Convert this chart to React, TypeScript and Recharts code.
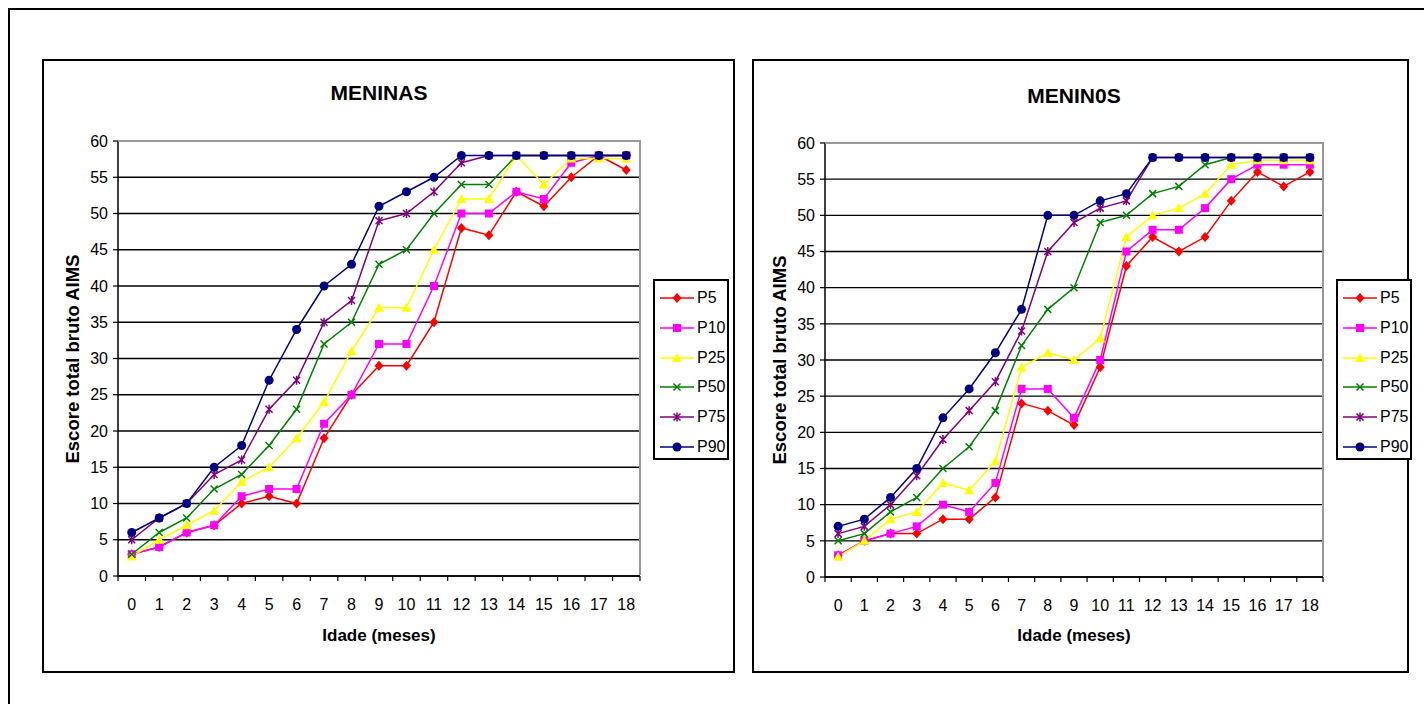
import { LineChart, Line, XAxis, YAxis, CartesianGrid } from 'recharts';

const AGES = [0, 1, 2, 3, 4, 5, 6, 7, 8, 9, 10, 11, 12, 13, 14, 15, 16, 17, 18];
const Y_TICKS = [0, 5, 10, 15, 20, 25, 30, 35, 40, 45, 50, 55, 60];

// MENINAS
const GIRLS_P5 = [3, 4, 6, 7, 10, 11, 10, 19, 25, 29, 29, 35, 48, 47, 53, 51, 55, 58, 56];
const GIRLS_P10 = [3, 4, 6, 7, 11, 12, 12, 21, 25, 32, 32, 40, 50, 50, 53, 52, 57, 58, 58];
const GIRLS_P25 = [2.7, 5, 7, 9, 13, 15, 19, 24, 31, 37, 37, 45, 52, 52, 58, 54, 57.6, 57.6, 57.6];
const GIRLS_P50 = [3, 6, 8, 12, 14, 18, 23, 32, 35, 43, 45, 50, 54, 54, 58, 58, 58, 58, 58];
const GIRLS_P75 = [5, 8, 10, 14, 16, 23, 27, 35, 38, 49, 50, 53, 57, 58, 58, 58, 58, 58, 58];
const GIRLS_P90 = [6, 8, 10, 15, 18, 27, 34, 40, 43, 51, 53, 55, 58, 58, 58, 58, 58, 58, 58];

// MENIN0S
const BOYS_P5 = [3, 5, 6, 6, 8, 8, 11, 24, 23, 21, 29, 43, 47, 45, 47, 52, 56, 54, 56];
const BOYS_P10 = [3, 5, 6, 7, 10, 9, 13, 26, 26, 22, 30, 45, 48, 48, 51, 55, 57, 57, 57];
const BOYS_P25 = [2.8, 5, 8, 9, 13, 12, 16, 29, 31, 30, 33, 47, 50, 51, 53, 57, 57.6, 57.6, 57.6];
const BOYS_P50 = [5, 6, 9, 11, 15, 18, 23, 32, 37, 40, 49, 50, 53, 54, 57, 58, 58, 58, 58];
const BOYS_P75 = [6, 7, 10, 14, 19, 23, 27, 34, 45, 49, 51, 52, 58, 58, 58, 58, 58, 58, 58];
const BOYS_P90 = [7, 8, 11, 15, 22, 26, 31, 37, 50, 50, 52, 53, 58, 58, 58, 58, 58, 58, 58];

const SERIES = [
  { key: 'P5', color: '#FF0000', shape: 'diamond' },
  { key: 'P10', color: '#FF00FF', shape: 'square' },
  { key: 'P25', color: '#FFFF00', shape: 'triangle' },
  { key: 'P50', color: '#008000', shape: 'x' },
  { key: 'P75', color: '#800080', shape: 'star' },
  { key: 'P90', color: '#000080', shape: 'circle' },
];

const FONT = '"Liberation Sans", Arial, sans-serif';

function buildRows(cols: number[][]) {
  return AGES.map((age, i) => {
    const row: Record<string, number> = { age };
    SERIES.forEach((s, j) => {
      row[s.key] = cols[j][i];
    });
    return row;
  });
}

const girlsData = buildRows([GIRLS_P5, GIRLS_P10, GIRLS_P25, GIRLS_P50, GIRLS_P75, GIRLS_P90]);
const boysData = buildRows([BOYS_P5, BOYS_P10, BOYS_P25, BOYS_P50, BOYS_P75, BOYS_P90]);

function Marker({ cx, cy, shape, color }: { cx?: number; cy?: number; shape: string; color: string }) {
  if (cx == null || cy == null) return null;
  switch (shape) {
    case 'diamond':
      return <polygon points={`${cx},${cy - 5} ${cx + 4.5},${cy} ${cx},${cy + 5} ${cx - 4.5},${cy}`} fill={color} />;
    case 'square':
      return <rect x={cx - 4} y={cy - 4} width={8} height={8} fill={color} />;
    case 'triangle':
      return <polygon points={`${cx},${cy - 5} ${cx + 5},${cy + 4} ${cx - 5},${cy + 4}`} fill={color} />;
    case 'x':
      return (
        <path
          d={`M${cx - 3.5},${cy - 3.5}L${cx + 3.5},${cy + 3.5}M${cx - 3.5},${cy + 3.5}L${cx + 3.5},${cy - 3.5}`}
          stroke={color}
          strokeWidth={1.5}
        />
      );
    case 'star':
      return (
        <path
          d={`M${cx - 3.5},${cy - 3.5}L${cx + 3.5},${cy + 3.5}M${cx - 3.5},${cy + 3.5}L${cx + 3.5},${cy - 3.5}M${cx},${cy - 4.5}L${cx},${cy + 4.5}`}
          stroke={color}
          strokeWidth={1.5}
        />
      );
    default:
      return <circle cx={cx} cy={cy} r={4.5} fill={color} />;
  }
}

// category label in the middle, tick marks on the category boundaries (Excel style)
function AgeTick({ x, y, payload, index, half }: any) {
  const last = index === AGES.length - 1;
  return (
    <g>
      <line x1={x - half} y1={y} x2={x - half} y2={y + 5} stroke="#000" strokeWidth={1.2} />
      {last && <line x1={x + half} y1={y} x2={x + half} y2={y + 5} stroke="#000" strokeWidth={1.2} />}
      <text x={x} y={y + 23} dy="0.71em" textAnchor="middle" fontSize={16} fill="#000">
        {payload.value}
      </text>
    </g>
  );
}

function Legend({ left, top }: { left: number; top: number }) {
  return (
    <div
      style={{
        position: 'absolute',
        left,
        top,
        width: 76,
        height: 181,
        boxSizing: 'border-box',
        border: '2px solid #000',
        background: '#fff',
      }}
    >
      {SERIES.map((s, i) => (
        <div key={s.key} style={{ position: 'absolute', left: 5, top: 5 + i * 29.8, height: 24, display: 'flex', alignItems: 'center' }}>
          <svg width={36} height={14}>
            <line x1={0} y1={7} x2={34} y2={7} stroke={s.color} strokeWidth={1.5} />
            <Marker cx={17} cy={7} shape={s.shape} color={s.color} />
          </svg>
          <span style={{ fontSize: 16, fontFamily: FONT, marginLeft: 1 }}>{s.key}</span>
        </div>
      ))}
    </div>
  );
}

type PanelProps = {
  title: string;
  data: Record<string, number>[];
  box: { left: number; top: number; width: number; height: number };
  margin: { top: number; right: number; bottom: number; left: number };
  titleY: number;
  legendX: number;
  legendY: number;
};

function Panel({ title, data, box, margin, titleY, legendX, legendY }: PanelProps) {
  const plotLeft = box.left + margin.left + 40;
  const plotTop = box.top + margin.top;
  const plotWidth = box.width - margin.left - 40 - margin.right;
  const plotHeight = box.height - margin.top - margin.bottom - 30;
  const centerX = plotLeft + plotWidth / 2;
  const half = plotWidth / AGES.length / 2;
  return (
    <>
      <div
        style={{
          position: 'absolute',
          left: box.left,
          top: box.top - 1,
          width: box.width + 1,
          height: box.height + 2,
          boxSizing: 'border-box',
          border: '2px solid #000',
        }}
      />
      <div style={{ position: 'absolute', left: box.left, top: box.top }}>
        <LineChart width={box.width} height={box.height} data={data} margin={margin}>
          <CartesianGrid vertical={false} stroke="#000" strokeWidth={1.4} />
          <XAxis
            dataKey="age"
            type="number"
            domain={[-0.5, 18.5]}
            ticks={AGES}
            interval={0}
            tickLine={false}
            tickSize={0}
            tickMargin={0}
            height={30}
            axisLine={{ stroke: '#000', strokeWidth: 1.5 }}
            tick={(p: any) => <AgeTick key={p.index} {...p} half={half} />}
            allowDataOverflow
          />
          <YAxis
            type="number"
            domain={[0, 60]}
            ticks={Y_TICKS}
            interval={0}
            width={40}
            tickSize={5}
            tickMargin={5}
            axisLine={{ stroke: '#000', strokeWidth: 1.5 }}
            tickLine={{ stroke: '#000', strokeWidth: 1.2 }}
            tick={{ fontSize: 16, fill: '#000' }}
          />
          {SERIES.map((s) => (
            <Line
              key={s.key}
              dataKey={s.key}
              stroke={s.color}
              strokeWidth={1.5}
              isAnimationActive={false}
              dot={(p: any) => <Marker key={`${s.key}-${p.index}`} cx={p.cx} cy={p.cy} shape={s.shape} color={s.color} />}
              activeDot={false}
            />
          ))}
        </LineChart>
      </div>
      <div
        style={{
          position: 'absolute',
          left: plotLeft,
          top: plotTop - 1,
          width: plotWidth + 1,
          height: plotHeight,
          boxSizing: 'border-box',
          borderTop: '2px solid #999',
          borderRight: '2px solid #999',
          pointerEvents: 'none',
        }}
      />
      <div
        style={{
          position: 'absolute',
          left: centerX - 100,
          width: 200,
          top: titleY - 12,
          textAlign: 'center',
          fontFamily: FONT,
          fontWeight: 'bold',
          fontSize: 21,
        }}
      >
        {title}
      </div>
      <div
        style={{
          position: 'absolute',
          left: centerX - 100,
          width: 200,
          top: 626,
          textAlign: 'center',
          fontFamily: FONT,
          fontWeight: 'bold',
          fontSize: 17,
        }}
      >
        Idade (meses)
      </div>
      <div
        style={{
          position: 'absolute',
          left: plotLeft - 45 - 150,
          top: plotTop + plotHeight / 2 - 11,
          width: 300,
          textAlign: 'center',
          fontFamily: FONT,
          fontWeight: 'bold',
          fontSize: 18.5,
          transform: 'rotate(-90deg)',
        }}
      >
        Escore total bruto AIMS
      </div>
      <Legend left={legendX} top={legendY} />
    </>
  );
}

export default function App() {
  return (
    <div
      style={{
        position: 'fixed',
        left: 0,
        top: 0,
        width: 1424,
        height: 704,
        overflow: 'hidden',
        background: '#fff',
        fontFamily: FONT,
      }}
    >
      <div
        style={{
          position: 'absolute',
          left: 8,
          top: 8,
          width: 1440,
          height: 720,
          boxSizing: 'border-box',
          border: '2px solid #000',
        }}
      />
      <Panel
        title="MENINAS"
        data={girlsData}
        box={{ left: 42, top: 60, width: 692, height: 612 }}
        margin={{ top: 81, right: 94, bottom: 66, left: 36 }}
        titleY={93}
        legendX={653}
        legendY={279}
      />
      <Panel
        title="MENIN0S"
        data={boysData}
        box={{ left: 752, top: 60, width: 656, height: 612 }}
        margin={{ top: 83, right: 85, bottom: 65, left: 33 }}
        titleY={96}
        legendX={1336}
        legendY={279}
      />
    </div>
  );
}
